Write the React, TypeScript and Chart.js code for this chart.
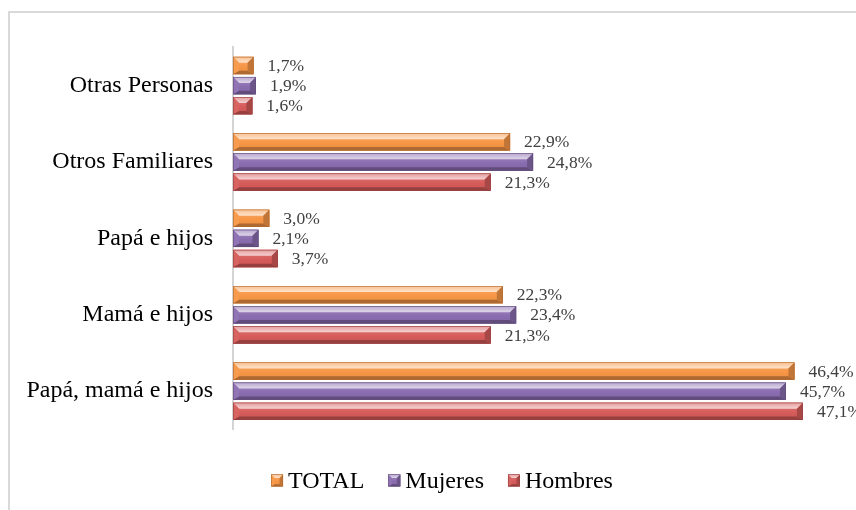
import React, { useEffect, useRef } from "react";
import { Chart, registerables } from "chart.js";

Chart.register(...registerables);

const categories = [
  "Otras Personas",
  "Otros Familiares",
  "Papá e hijos",
  "Mamá e hijos",
  "Papá, mamá e hijos",
];
const seriesNames = ["TOTAL", "Mujeres", "Hombres"];
const totalValues = [1.7, 22.9, 3.0, 22.3, 46.4];
const mujeresValues = [1.9, 24.8, 2.1, 23.4, 45.7];
const hombresValues = [1.6, 21.3, 3.7, 21.3, 47.1];
const seriesColors = ["#F79646", "#8A6DB0", "#D65C5A"];

const SERIF = "'Liberation Serif', 'Times New Roman', serif";

function mix(hex: string, amt: number): string {
  const n = parseInt(hex.slice(1), 16);
  let r = (n >> 16) & 255, g = (n >> 8) & 255, b = n & 255;
  if (amt >= 0) {
    r = r + (255 - r) * amt; g = g + (255 - g) * amt; b = b + (255 - b) * amt;
  } else {
    r = r * (1 + amt); g = g * (1 + amt); b = b * (1 + amt);
  }
  return `rgb(${Math.round(r)},${Math.round(g)},${Math.round(b)})`;
}

// Bevelled "pillow" rectangle drawn over a bar or legend swatch
function bevelRect(ctx: CanvasRenderingContext2D, L: number, T: number, R: number, B: number, color: string, bs: number) {
  const w = R - L, h = B - T;
  if (w <= 0 || h <= 0) return;
  const bw = Math.min(bs, w / 2);
  const bt = Math.min(bs, h * 0.36);
  const bb = Math.min(bs * 0.6, h * 0.2);
  ctx.save();
  const g = ctx.createLinearGradient(0, T, 0, B);
  g.addColorStop(0, mix(color, 0.2));
  g.addColorStop(0.55, color);
  g.addColorStop(1, mix(color, -0.06));
  ctx.fillStyle = g;
  ctx.fillRect(L, T, w, h);
  const poly = (pts: number[][], fill: string | CanvasGradient) => {
    ctx.beginPath();
    ctx.moveTo(pts[0][0], pts[0][1]);
    for (let i = 1; i < pts.length; i++) ctx.lineTo(pts[i][0], pts[i][1]);
    ctx.closePath();
    ctx.fillStyle = fill;
    ctx.fill();
  };
  const gt = ctx.createLinearGradient(0, T, 0, T + bt);
  gt.addColorStop(0, mix(color, 0.4));
  gt.addColorStop(1, mix(color, 0.72));
  poly([[L, T], [R, T], [R - bw, T + bt], [L + bw, T + bt]], gt);
  poly([[L, B], [R, B], [R - bw, B - bb], [L + bw, B - bb]], mix(color, -0.3));
  poly([[R, T], [R, B], [R - bw, B - bb], [R - bw, T + bt]], mix(color, -0.22));
  poly([[L, T], [L, B], [L + bw, B - bb], [L + bw, T + bt]], mix(color, 0.05));
  ctx.strokeStyle = mix(color, -0.3);
  ctx.lineWidth = 0.6;
  ctx.strokeRect(L + 0.3, T + 0.3, w - 0.6, h - 0.6);
  ctx.restore();
}

const bevelBars = {
  id: "bevelBars",
  afterDatasetsDraw(chart: any) {
    const ctx = chart.ctx;
    chart.data.datasets.forEach((ds: any, di: number) => {
      const meta = chart.getDatasetMeta(di);
      meta.data.forEach((el: any) => {
        const { x, y, base, height } = el.getProps(["x", "y", "base", "height"], true);
        bevelRect(ctx, Math.min(base, x), y - height / 2, Math.max(base, x), y + height / 2, seriesColors[di], 6);
      });
    });
    // value labels
    ctx.save();
    ctx.font = `17.5px ${SERIF}`;
    ctx.fillStyle = "#404040";
    ctx.textAlign = "left";
    ctx.textBaseline = "middle";
    chart.data.datasets.forEach((ds: any, di: number) => {
      const meta = chart.getDatasetMeta(di);
      meta.data.forEach((el: any, i: number) => {
        const v = ds.data[i] as number;
        const txt = v.toFixed(1).replace(".", ",") + "%";
        ctx.fillText(txt, el.x + 14, el.y + 1);
      });
    });
    ctx.restore();
  },
};

const bevelLegend = {
  id: "bevelLegend",
  afterDraw(chart: any) {
    const ctx = chart.ctx;
    ctx.save();
    ctx.font = `24px ${SERIF}`;
    ctx.textBaseline = "middle";
    ctx.textAlign = "left";
    const box = 12, gap = 5, spacing = 24;
    const widths = seriesNames.map((n) => box + gap + ctx.measureText(n).width);
    const total = widths.reduce((a, b) => a + b, 0) + spacing * (widths.length - 1);
    let x = 432 - total / 2;
    const cy = chart.chartArea.bottom + 51;
    seriesNames.forEach((n, i) => {
      bevelRect(ctx, x, cy - box / 2, x + box, cy + box / 2, seriesColors[i], 3.5);
      ctx.fillStyle = "#000";
      ctx.fillText(n, x + box + gap, cy + 1);
      x += widths[i] + spacing;
    });
    ctx.restore();
  },
};

export default function App() {
  const ref = useRef<HTMLCanvasElement>(null);
  useEffect(() => {
    if (!ref.current) return;
    const values = [totalValues, mujeresValues, hombresValues];
    const chart = new Chart(ref.current, {
      type: "bar",
      data: {
        labels: categories,
        datasets: seriesNames.map((name, i) => ({
          label: name,
          data: values[i],
          backgroundColor: seriesColors[i],
          borderWidth: 0,
          categoryPercentage: 0.79,
          barPercentage: 0.86,
        })),
      },
      options: {
        indexAxis: "y",
        animation: false,
        responsive: false,
        devicePixelRatio: 1,
        layout: { padding: { top: 27.6, bottom: 80.6, left: 0, right: 18 } },
        plugins: { legend: { display: false }, tooltip: { enabled: false } },
        scales: {
          x: { display: false, min: 0, max: 50 },
          y: {
            afterFit: (scale: any) => { scale.width = 223; },
            grid: { display: false, drawTicks: false },
            border: { display: true, color: "#d4d4d4", width: 2 },
            ticks: { font: { family: SERIF, size: 24 }, color: "#000", padding: 20 },
          },
        },
      },
      plugins: [bevelBars, bevelLegend],
    });
    return () => chart.destroy();
  }, []);
  return (
    <div
      style={{
        position: "fixed",
        left: 8,
        top: 11,
        width: 848,
        height: 499,
        boxSizing: "border-box",
        borderTop: "2px solid #d9d9d9",
        borderLeft: "2px solid #d9d9d9",
        background: "#fff",
        overflow: "hidden",
      }}
    >
      <canvas ref={ref} width={846} height={497} style={{ display: "block" }} />
    </div>
  );
}
